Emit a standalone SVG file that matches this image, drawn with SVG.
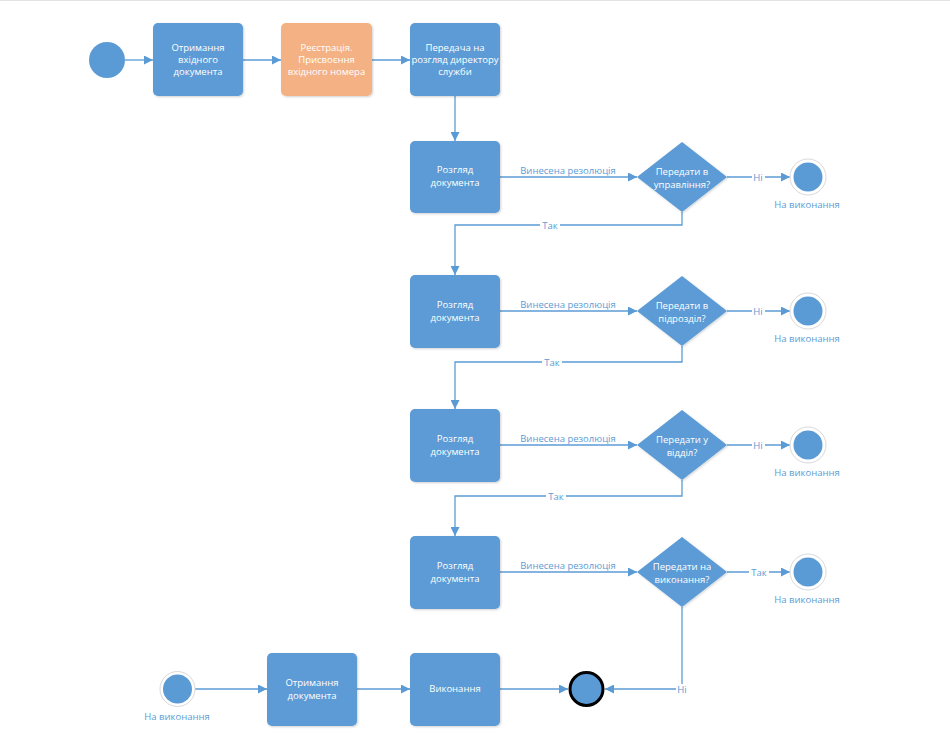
<svg xmlns="http://www.w3.org/2000/svg" width="950" height="734" viewBox="0 0 950 734">
<style>
.box{fill:#5B9BD5;}
.org{fill:#F4B183;}
.t{font-family:"Open Sans","Liberation Sans",sans-serif;font-size:9.5px;fill:#fff;text-anchor:middle;}
.lbl{font-family:"Open Sans","Liberation Sans",sans-serif;font-size:9.5px;fill:#5B9BD5;text-anchor:middle;}
.ln{fill:none;stroke:#5B9BD5;stroke-width:1.3;}
.ring{fill:#fff;stroke:#d9d9d9;stroke-width:1;}
.dot{fill:#5B9BD5;}
.bg{fill:#fff;}
</style>
<defs>
<marker id="ar" viewBox="0 0 10 10" refX="10" refY="5" markerWidth="9" markerHeight="9" markerUnits="userSpaceOnUse" orient="auto"><path d="M0,0 L10,5 L0,10 z" fill="#5B9BD5"/></marker>
<filter id="sh" x="-10%" y="-10%" width="130%" height="130%"><feDropShadow dx="1" dy="1" stdDeviation="1.2" flood-color="#000" flood-opacity="0.18"/></filter>
</defs>
<rect width="950" height="734" fill="#fff"/>
<line x1="0" y1="0.5" x2="950" y2="0.5" stroke="#e3e3e3"/>

<g id="connectors">
<line class="ln" x1="125" y1="60" x2="153" y2="60" marker-end="url(#ar)"/>
<line class="ln" x1="243" y1="60" x2="281" y2="60" marker-end="url(#ar)"/>
<line class="ln" x1="372" y1="60" x2="410" y2="60" marker-end="url(#ar)"/>
<line class="ln" x1="455" y1="96" x2="455" y2="141" marker-end="url(#ar)"/>

<line class="ln" x1="500" y1="177" x2="637" y2="177" marker-end="url(#ar)"/>
<text class="lbl" x="568" y="174">Винесена резолюція</text>
<line class="ln" x1="727" y1="177" x2="790" y2="177" marker-end="url(#ar)"/>
<rect class="bg" x="752" y="171" width="13" height="11"/>
<text class="lbl" x="758" y="180.5">Ні</text>
<polyline class="ln" points="682,212 682,225 455,225 455,275" marker-end="url(#ar)"/>
<rect class="bg" x="540" y="220" width="20" height="10"/>
<text class="lbl" x="550" y="228.5">Так</text>

<line class="ln" x1="500" y1="311" x2="637" y2="311" marker-end="url(#ar)"/>
<text class="lbl" x="568" y="308">Винесена резолюція</text>
<line class="ln" x1="727" y1="311" x2="790" y2="311" marker-end="url(#ar)"/>
<rect class="bg" x="752" y="305" width="13" height="11"/>
<text class="lbl" x="758" y="314.5">Ні</text>
<polyline class="ln" points="682,346 682,362 455,362 455,409" marker-end="url(#ar)"/>
<rect class="bg" x="542" y="357" width="20" height="10"/>
<text class="lbl" x="552" y="365.5">Так</text>

<line class="ln" x1="500" y1="445" x2="637" y2="445" marker-end="url(#ar)"/>
<text class="lbl" x="568" y="442">Винесена резолюція</text>
<line class="ln" x1="727" y1="445" x2="790" y2="445" marker-end="url(#ar)"/>
<rect class="bg" x="752" y="439" width="13" height="11"/>
<text class="lbl" x="758" y="448.5">Ні</text>
<polyline class="ln" points="682,480 682,496 455,496 455,536" marker-end="url(#ar)"/>
<rect class="bg" x="546" y="491" width="20" height="10"/>
<text class="lbl" x="556" y="499.5">Так</text>

<line class="ln" x1="500" y1="572" x2="637" y2="572" marker-end="url(#ar)"/>
<text class="lbl" x="568" y="569">Винесена резолюція</text>
<line class="ln" x1="727" y1="572" x2="790" y2="572" marker-end="url(#ar)"/>
<rect class="bg" x="749" y="566" width="20" height="11"/>
<text class="lbl" x="759" y="575.5">Так</text>
<polyline class="ln" points="682,607 682,689 605,689" marker-end="url(#ar)"/>
<rect class="bg" x="676" y="684" width="12" height="10"/>
<text class="lbl" x="682" y="692.5">Ні</text>

<line class="ln" x1="195" y1="689" x2="267" y2="689" marker-end="url(#ar)"/>
<line class="ln" x1="357" y1="689" x2="410" y2="689" marker-end="url(#ar)"/>
<line class="ln" x1="500" y1="689" x2="568" y2="689" marker-end="url(#ar)"/>
</g>

<g id="start"><circle class="dot" cx="107" cy="60" r="18"/></g>

<g id="n1"><rect class="box" filter="url(#sh)" x="153" y="23" width="90" height="73" rx="5"/>
<text class="t" x="198" y="51">Отримання</text><text class="t" x="198" y="63">вхідного</text><text class="t" x="198" y="75">документа</text></g>
<g id="n2"><rect class="org" filter="url(#sh)" x="281" y="23" width="91" height="73" rx="5"/>
<text class="t" x="326.5" y="51">Реєстрація.</text><text class="t" x="326.5" y="63">Присвоєння</text><text class="t" x="326.5" y="75">вхідного номера</text></g>
<g id="n3"><rect class="box" filter="url(#sh)" x="410" y="23" width="90" height="73" rx="5"/>
<text class="t" x="455" y="51">Передача на</text><text class="t" x="455" y="63">розгляд директору</text><text class="t" x="455" y="75">служби</text></g>

<g id="r1"><rect class="box" filter="url(#sh)" x="410" y="141" width="90" height="72" rx="5"/>
<text class="t" x="455" y="173">Розгляд</text><text class="t" x="455" y="186">документа</text></g>
<g id="d1"><polygon class="box" filter="url(#sh)" points="682,142 727,177 682,212 637,177"/>
<text class="t" x="682" y="175">Передати в</text><text class="t" x="682" y="188">управління?</text></g>
<g id="e1"><circle class="ring" cx="808" cy="177" r="18"/><circle class="dot" cx="808" cy="177" r="14.5"/>
<text class="lbl" x="807" y="208">На виконання</text></g>

<g id="r2"><rect class="box" filter="url(#sh)" x="410" y="275" width="90" height="73" rx="5"/>
<text class="t" x="455" y="308">Розгляд</text><text class="t" x="455" y="321">документа</text></g>
<g id="d2"><polygon class="box" filter="url(#sh)" points="682,276 727,311 682,346 637,311"/>
<text class="t" x="682" y="309">Передати в</text><text class="t" x="682" y="322">підрозділ?</text></g>
<g id="e2"><circle class="ring" cx="808" cy="311" r="18"/><circle class="dot" cx="808" cy="311" r="14.5"/>
<text class="lbl" x="807" y="342">На виконання</text></g>

<g id="r3"><rect class="box" filter="url(#sh)" x="410" y="409" width="90" height="73" rx="5"/>
<text class="t" x="455" y="442">Розгляд</text><text class="t" x="455" y="455">документа</text></g>
<g id="d3"><polygon class="box" filter="url(#sh)" points="682,410 727,445 682,480 637,445"/>
<text class="t" x="682" y="443">Передати у</text><text class="t" x="682" y="456">відділ?</text></g>
<g id="e3"><circle class="ring" cx="808" cy="445" r="18"/><circle class="dot" cx="808" cy="445" r="14.5"/>
<text class="lbl" x="807" y="476">На виконання</text></g>

<g id="r4"><rect class="box" filter="url(#sh)" x="410" y="536" width="90" height="73" rx="5"/>
<text class="t" x="455" y="569">Розгляд</text><text class="t" x="455" y="582">документа</text></g>
<g id="d4"><polygon class="box" filter="url(#sh)" points="682,537 727,572 682,607 637,572"/>
<text class="t" x="682" y="570">Передати на</text><text class="t" x="682" y="583">виконання?</text></g>
<g id="e4"><circle class="ring" cx="808" cy="572" r="18"/><circle class="dot" cx="808" cy="572" r="14.5"/>
<text class="lbl" x="807" y="603">На виконання</text></g>

<g id="s2"><circle class="ring" cx="177.5" cy="689" r="17.5"/><circle class="dot" cx="177.5" cy="689" r="14.5"/>
<text class="lbl" x="177" y="720">На виконання</text></g>
<g id="b1"><rect class="box" filter="url(#sh)" x="267" y="653" width="90" height="73" rx="5"/>
<text class="t" x="312" y="686">Отримання</text><text class="t" x="312" y="699">документа</text></g>
<g id="b2"><rect class="box" filter="url(#sh)" x="410" y="653" width="90" height="73" rx="5"/>
<text class="t" x="455" y="692">Виконання</text></g>
<g id="end"><circle cx="586.5" cy="689" r="16.5" fill="#5B9BD5" stroke="#000" stroke-width="3"/></g>
</svg>
